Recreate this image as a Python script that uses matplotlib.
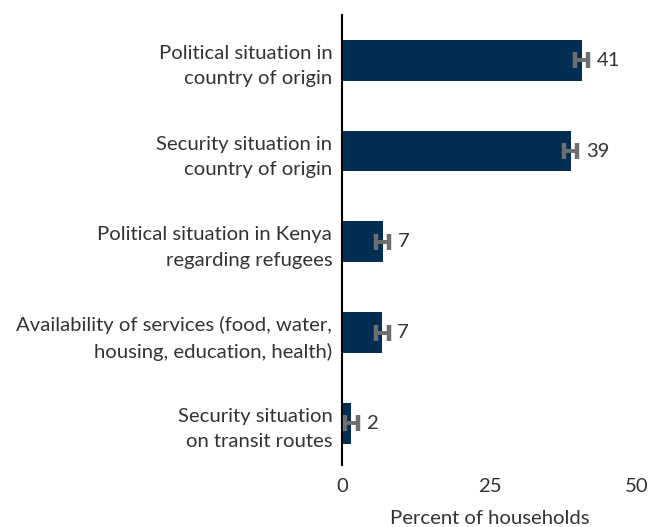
import matplotlib
matplotlib.use("Agg")
import matplotlib.pyplot as plt

categories = [
    "Political situation in\ncountry of origin",
    "Security situation in\ncountry of origin",
    "Political situation in Kenya\nregarding refugees",
    "Availability of services (food, water,\nhousing, education, health)",
    "Security situation\non transit routes",
]
values = [40.6, 38.8, 6.9, 6.8, 1.6]
errors = [1.1, 1.1, 1.1, 1.1, 1.1]
labels = ["41", "39", "7", "7", "2"]
xticks = [0, 25, 50]

plt.rcParams["font.family"] = ["Lato", "DejaVu Sans"]
text_color = "#333333"
fs = 14.6
fw = "normal"

fig = plt.figure(figsize=(6.54, 5.27), dpi=100)
ax = fig.add_axes([0.523, 0.1176, 0.451, 0.854])

y = list(range(len(categories)))
ax.barh(y, values, height=0.45, color="#012e52", zorder=2)
ax.errorbar(values, y, xerr=errors, fmt="none", ecolor="#6e6e6e",
            elinewidth=2.8, capsize=5.8, capthick=3.2, zorder=3)
for yi, v, e, lab in zip(y, values, errors, labels):
    ax.annotate(lab, (v + e, yi), xytext=(6, 0), textcoords="offset points",
                va="center", ha="left", fontsize=fs, fontweight=fw, color=text_color)

ax.set_yticks(y)
ax.set_yticklabels(categories, fontsize=fs, fontweight=fw, color=text_color,
                   linespacing=1.6)
ax.set_ylim(4.46, -0.5)
ax.set_xlim(0, 50)
ax.set_xticks(xticks)
ax.set_xticklabels([str(t) for t in xticks], fontsize=fs, fontweight=fw, color=text_color)
ax.tick_params(axis="y", length=0, pad=7)
ax.tick_params(axis="x", length=0, pad=9)
for s in ["top", "right", "bottom"]:
    ax.spines[s].set_visible(False)
ax.spines["left"].set_linewidth(1.5)
ax.spines["left"].set_color("black")
ax.set_xlabel("Percent of households", fontsize=fs, fontweight=fw, color=text_color, labelpad=11)

fig.savefig("out.png", dpi=100)
